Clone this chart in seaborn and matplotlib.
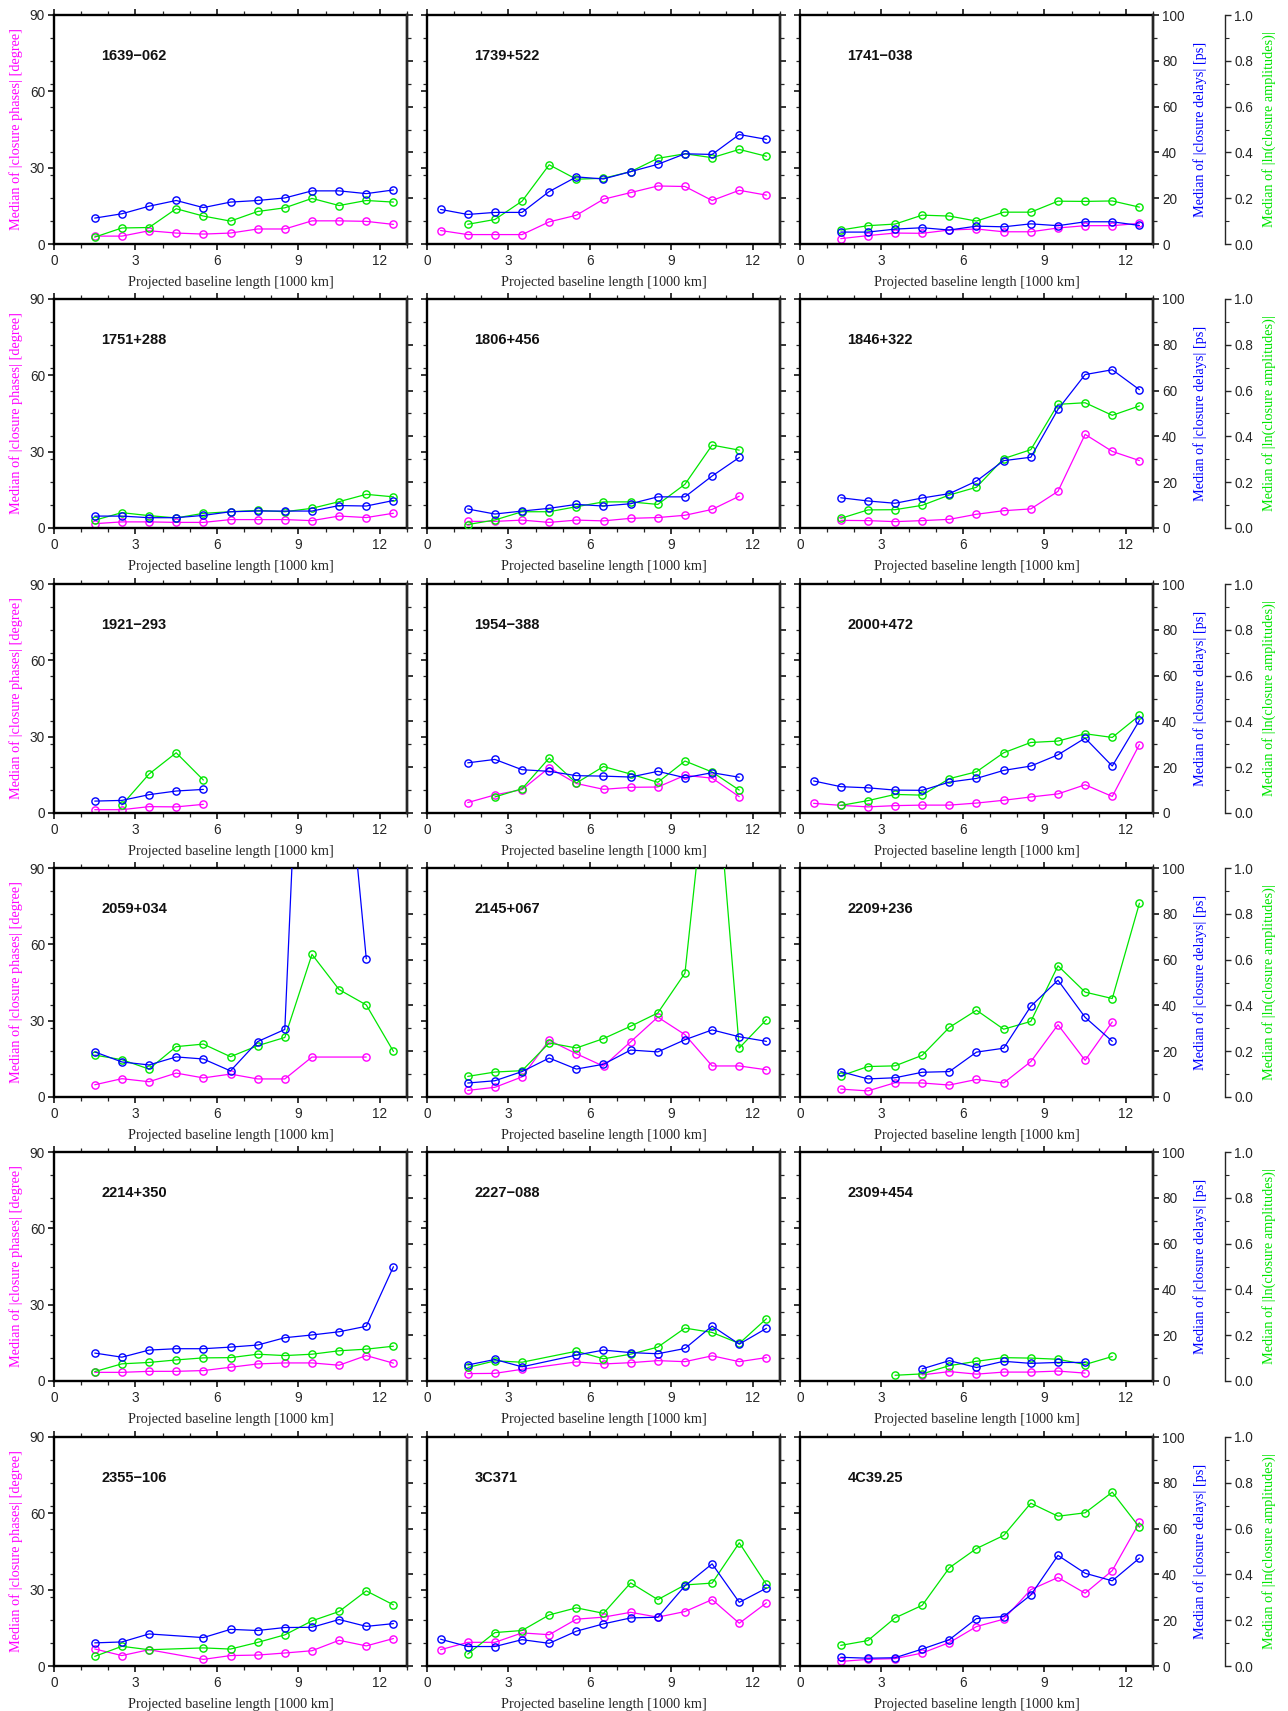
import numpy as np
import pandas as pd
import matplotlib
matplotlib.use("Agg")
import matplotlib.pyplot as plt
from matplotlib.ticker import MultipleLocator, FormatStrFormatter
import seaborn as sns

# ---------------- data ----------------
baseline_km = [0.5, 1.5, 2.5, 3.5, 4.5, 5.5, 6.5, 7.5, 8.5, 9.5, 10.5, 11.5, 12.5]
N = None
sources = ["1639\u2212062", "1739+522", "1741\u2212038",
           "1751+288", "1806+456", "1846+322",
           "1921\u2212293", "1954\u2212388", "2000+472",
           "2059+034", "2145+067", "2209+236",
           "2214+350", "2227\u2212088", "2309+454",
           "2355\u2212106", "3C371", "4C39.25"]

# median |closure phase| [degree]
phase = {
    "1639\u2212062": [N, 3.1, 3.1, 5.2, 4.3, 3.9, 4.3, 5.9, 5.9, 9.1, 9.1, 8.9, 7.7],
    "1739+522": [5.3, 3.7, 3.7, 3.7, 8.7, 11.3, 17.6, 20.2, 22.8, 22.6, 17.1, 21.1, 19.2],
    "1741\u2212038": [N, 2.1, 3.3, 4.3, 4.2, 5.5, 5.9, 4.8, 4.8, 6.3, 7.2, 7.2, 8.1],
    "1751+288": [N, 1.7, 2.4, 2.4, 2.2, 2.2, 3.3, 3.3, 3.3, 2.9, 4.7, 4.1, 5.8],
    "1806+456": [N, 2.6, 2.6, 3.1, 2.2, 3.1, 2.8, 3.8, 4.1, 5.0, 7.3, 12.5, N],
    "1846+322": [N, 3.0, 2.9, 2.5, 2.9, 3.4, 5.4, 6.8, 7.5, 14.4, 36.8, 30.1, 26.5],
    "1921\u2212293": [N, 1.3, 1.3, 2.5, 2.4, 3.4, N, N, N, N, N, N, N],
    "1954\u2212388": [N, 4.1, 7.1, 9.2, 17.8, 11.6, 9.3, 10.1, 10.2, 14.8, 13.7, 6.4, N],
    "2000+472": [3.8, 3.0, 2.4, 2.9, 3.1, 3.1, 3.9, 5.0, 6.3, 7.5, 11.1, 6.5, 26.9],
    "2059+034": [N, 4.8, 7.2, 6.0, 9.4, 7.5, 9.0, 7.1, 7.1, 15.7, N, 15.7, N],
    "2145+067": [N, 2.6, 3.8, 7.9, 22.3, 17.0, 12.1, 21.7, 31.4, 24.5, 12.2, 12.2, 10.7],
    "2209+236": [N, 3.1, 2.4, 5.6, 5.5, 4.7, 6.9, 5.5, 13.9, 28.4, 14.4, 29.5, N],
    "2214+350": [N, 3.4, 3.4, 3.8, 3.8, 4.1, 5.4, 6.7, 7.1, 7.1, 6.2, 10.0, 7.0],
    "2227\u2212088": [N, 2.9, 3.0, 4.6, N, 7.5, 6.7, 7.2, 8.0, 7.6, 9.9, 7.6, 9.2],
    "2309+454": [N, N, N, N, 2.4, 3.7, 2.7, 3.5, 3.5, 3.9, 3.1, N, N],
    "2355\u2212106": [N, 6.7, 4.1, 6.4, N, 2.6, 4.1, 4.3, 5.1, 6.0, 10.1, 7.9, 10.8],
    "3C371": [6.4, 9.3, 9.3, 13.0, 12.3, 18.4, 19.2, 21.1, 19.2, 21.4, 26.1, 16.8, 24.8],
    "4C39.25": [N, 1.8, 2.6, 2.9, 5.1, 9.2, 15.5, 18.4, 30.0, 34.8, 28.6, 37.5, 56.4],
}

# median |closure delay| [ps]
delay = {
    "1639\u2212062": [N, 11.3, 13.2, 16.5, 19.0, 15.9, 18.3, 19.0, 20.1, 23.2, 23.2, 22.0, 23.6],
    "1739+522": [15.1, 12.9, 13.8, 13.8, 22.9, 29.3, 28.4, 31.6, 34.8, 39.4, 39.1, 47.8, 45.7],
    "1741\u2212038": [N, 5.2, 5.2, 6.5, 7.1, 6.1, 7.8, 7.5, 8.8, 8.0, 9.7, 9.7, 8.1],
    "1751+288": [N, 5.2, 5.2, 4.5, 4.5, 5.5, 7.1, 7.4, 7.4, 7.4, 9.8, 9.6, 12.0],
    "1806+456": [N, 8.3, 6.1, 7.4, 8.6, 10.3, 9.6, 10.6, 13.6, 13.6, 22.7, 30.8, N],
    "1846+322": [N, 13.2, 11.8, 10.8, 13.1, 15.0, 20.5, 29.4, 30.9, 51.8, 67.0, 69.1, 60.4],
    "1921\u2212293": [N, 5.2, 5.5, 8.0, 9.6, 10.3, N, N, N, N, N, N, N],
    "1954\u2212388": [N, 21.9, 23.4, 18.9, 18.2, 16.3, 16.1, 15.7, 18.2, 15.4, 17.6, 15.6, N],
    "2000+472": [14.0, 11.5, 11.0, 10.0, 9.9, 13.5, 15.1, 18.6, 20.5, 25.4, 32.7, 20.5, 40.4],
    "2059+034": [N, 19.7, 15.3, 14.0, 17.5, 16.6, 11.4, 24.2, 29.5, 300.0, 185.0, 60.4, N],
    "2145+067": [N, 6.1, 7.1, 11.1, 17.0, 12.2, 14.3, 20.5, 19.7, 25.0, 29.3, 26.3, 24.3],
    "2209+236": [N, 11.1, 7.9, 8.4, 10.8, 11.1, 19.6, 21.3, 39.6, 51.0, 34.8, 24.3, N],
    "2214+350": [N, 12.2, 10.4, 13.5, 14.1, 14.1, 14.8, 15.7, 18.9, 20.1, 21.5, 23.9, 49.9],
    "2227\u2212088": [N, 7.0, 9.4, 6.2, N, 11.3, 13.5, 12.4, 11.9, 14.2, 24.0, 16.1, 23.0],
    "2309+454": [N, N, N, N, 5.3, 8.9, 5.9, 8.6, 7.7, 8.1, 8.1, N, N],
    "2355\u2212106": [N, 10.1, 10.5, 14.0, N, 12.4, 16.0, 15.5, 16.8, 16.9, 20.3, 17.3, 18.5],
    "3C371": [11.7, 8.5, 8.5, 11.5, 9.9, 15.2, 18.4, 21.0, 21.3, 35.0, 44.6, 27.8, 34.0],
    "4C39.25": [N, 3.8, 3.4, 3.6, 7.4, 11.5, 20.7, 21.6, 31.0, 48.3, 40.5, 37.2, 47.1],
}

# median |ln(closure amplitude)|
amplitude = {
    "1639\u2212062": [N, 0.03, 0.07, 0.072, 0.154, 0.122, 0.10, 0.142, 0.158, 0.199, 0.168, 0.19, 0.183],
    "1739+522": [N, 0.086, 0.107, 0.187, 0.346, 0.283, 0.287, 0.316, 0.374, 0.394, 0.377, 0.413, 0.383],
    "1741\u2212038": [N, 0.061, 0.08, 0.087, 0.126, 0.122, 0.10, 0.139, 0.139, 0.187, 0.186, 0.188, 0.161],
    "1751+288": [N, 0.034, 0.067, 0.054, 0.044, 0.064, 0.071, 0.077, 0.071, 0.086, 0.115, 0.147, 0.136],
    "1806+456": [N, 0.015, 0.035, 0.071, 0.071, 0.093, 0.114, 0.114, 0.103, 0.191, 0.362, 0.34, N],
    "1846+322": [N, 0.042, 0.079, 0.08, 0.099, 0.144, 0.178, 0.303, 0.342, 0.54, 0.547, 0.492, 0.533],
    "1921\u2212293": [N, N, 0.035, 0.17, 0.263, 0.144, N, N, N, N, N, N, N],
    "1954\u2212388": [N, N, 0.07, 0.106, 0.24, 0.131, 0.203, 0.17, 0.134, 0.227, 0.179, 0.10, N],
    "2000+472": [N, 0.033, 0.054, 0.081, 0.078, 0.15, 0.18, 0.263, 0.308, 0.314, 0.346, 0.33, 0.426],
    "2059+034": [N, 0.183, 0.163, 0.122, 0.22, 0.231, 0.176, 0.224, 0.26, 0.623, 0.469, 0.402, 0.199],
    "2145+067": [N, 0.09, 0.109, 0.115, 0.236, 0.214, 0.255, 0.309, 0.367, 0.541, 1.65, 0.214, 0.338],
    "2209+236": [N, 0.092, 0.133, 0.136, 0.182, 0.304, 0.379, 0.296, 0.33, 0.573, 0.458, 0.43, 0.846],
    "2214+350": [N, 0.041, 0.075, 0.081, 0.092, 0.101, 0.102, 0.117, 0.111, 0.117, 0.132, 0.139, 0.152],
    "2227\u2212088": [N, 0.059, 0.088, 0.082, N, 0.13, 0.097, 0.117, 0.148, 0.231, 0.212, 0.164, 0.272],
    "2309+454": [N, N, N, 0.025, 0.031, 0.067, 0.086, 0.102, 0.10, 0.095, 0.072, 0.107, N],
    "2355\u2212106": [N, 0.042, 0.086, 0.071, N, 0.079, 0.074, 0.103, 0.136, 0.197, 0.238, 0.328, 0.267],
    "3C371": [N, 0.052, 0.146, 0.155, 0.223, 0.254, 0.23, 0.363, 0.29, 0.354, 0.362, 0.538, 0.356],
    "4C39.25": [N, 0.09, 0.111, 0.21, 0.265, 0.429, 0.513, 0.57, 0.711, 0.654, 0.669, 0.759, 0.606],
}

# ---------------- style ----------------
sns.set_theme(style="ticks")
plt.rcParams["font.family"] = ["Liberation Sans", "DejaVu Sans"]
SERIF = ["Liberation Serif", "DejaVu Serif"]
C_PH = "#ff00ff"
C_DL = "#0000ff"
C_AM = "#00e600"

fig = plt.figure(figsize=(12.88, 17.11), dpi=100)
W, H = 1288.0, 1711.0
col_left = [54, 427, 800]
row_top = [15, 299, 584, 868, 1152, 1437]
pw, ph = 353, 229

TICK_FS = 9.8
LAB_FS = 10.3


def draw(ax, values, color):
    df = pd.DataFrame({"x": baseline_km, "y": values}).dropna()
    sns.lineplot(data=df, x="x", y="y", ax=ax, color=color, linewidth=0.9,
                 marker="o", markersize=5.2, markerfacecolor="none",
                 markeredgecolor=color, markeredgewidth=1.0, sort=True,
                 errorbar=None)
    ax.set_xlabel("")
    ax.set_ylabel("")


for i, src in enumerate(sources):
    r, c = divmod(i, 3)
    rect = [col_left[c] / W, 1 - (row_top[r] + ph) / H, pw / W, ph / H]
    ax = fig.add_axes(rect)
    axg = ax.twinx()
    axb = ax.twinx()

    draw(ax, phase[src], C_PH)
    draw(axg, amplitude[src], C_AM)
    draw(axb, delay[src], C_DL)

    ax.set_xlim(0, 13)
    ax.set_ylim(0, 90)
    axb.set_ylim(0, 100)
    axg.set_ylim(0, 1.0)

    # main frame
    for s in ax.spines.values():
        s.set_linewidth(1.7)
        s.set_color("black")
    for s in axb.spines.values():
        s.set_visible(False)
    axb.spines["right"].set_visible(True)
    axb.spines["right"].set_linewidth(1.7)

    ax.xaxis.set_major_locator(MultipleLocator(3))
    ax.xaxis.set_minor_locator(MultipleLocator(1))
    ax.yaxis.set_major_locator(MultipleLocator(30))
    ax.yaxis.set_minor_locator(MultipleLocator(9))
    axb.yaxis.set_major_locator(MultipleLocator(20))
    axb.yaxis.set_minor_locator(MultipleLocator(10))

    ax.tick_params(axis="x", which="both", direction="out", top=True, bottom=True,
                   labeltop=False, labelbottom=True, labelsize=TICK_FS, pad=2.5)
    ax.tick_params(axis="y", which="both", direction="out", left=True, right=False,
                   labelleft=(c == 0), labelsize=TICK_FS, pad=2)
    ax.tick_params(which="major", length=4.5, width=1.3)
    ax.tick_params(which="minor", length=3.0, width=0.9)
    axb.tick_params(axis="y", which="both", direction="out", right=True,
                    labelright=(c == 2), labelsize=TICK_FS, pad=2)
    axb.tick_params(which="major", length=4.5, width=1.3)
    axb.tick_params(which="minor", length=3.0, width=0.9)

    ax.set_xlabel("Projected baseline length [1000 km]", family=SERIF,
                  fontsize=LAB_FS, labelpad=6)

    if c == 0:
        ax.set_ylabel("Median of |closure phases| [degree]", family=SERIF,
                      fontsize=LAB_FS, color=C_PH, labelpad=5)

    if c == 2:
        axb.set_ylabel("Median of |closure delays| [ps]", family=SERIF,
                       fontsize=LAB_FS, color=C_DL, labelpad=6)
        for s in axg.spines.values():
            s.set_visible(False)
        axg.spines["right"].set_visible(True)
        axg.spines["right"].set_position(("axes", 1.205))
        axg.spines["right"].set_linewidth(1.0)
        axg.yaxis.set_major_locator(MultipleLocator(0.2))
        axg.yaxis.set_minor_locator(MultipleLocator(0.1))
        axg.yaxis.set_major_formatter(FormatStrFormatter("%.1f"))
        axg.tick_params(axis="y", which="both", direction="out", right=True,
                        labelright=True, labelsize=TICK_FS, pad=2)
        axg.tick_params(which="major", length=4.5, width=1.0)
        axg.tick_params(which="minor", length=3.0, width=0.8)
        axg.set_ylabel("Median of |ln(closure amplitudes)|", family=SERIF,
                       fontsize=LAB_FS, color=C_AM, labelpad=6)
    else:
        for s in axg.spines.values():
            s.set_visible(False)
        axg.tick_params(axis="y", which="both", right=False, labelright=False)

    ax.text(1.75, 74, src, fontsize=10.5, fontweight="bold", va="center",
            ha="left", color="#111111")

fig.savefig("out.png", dpi=100)
